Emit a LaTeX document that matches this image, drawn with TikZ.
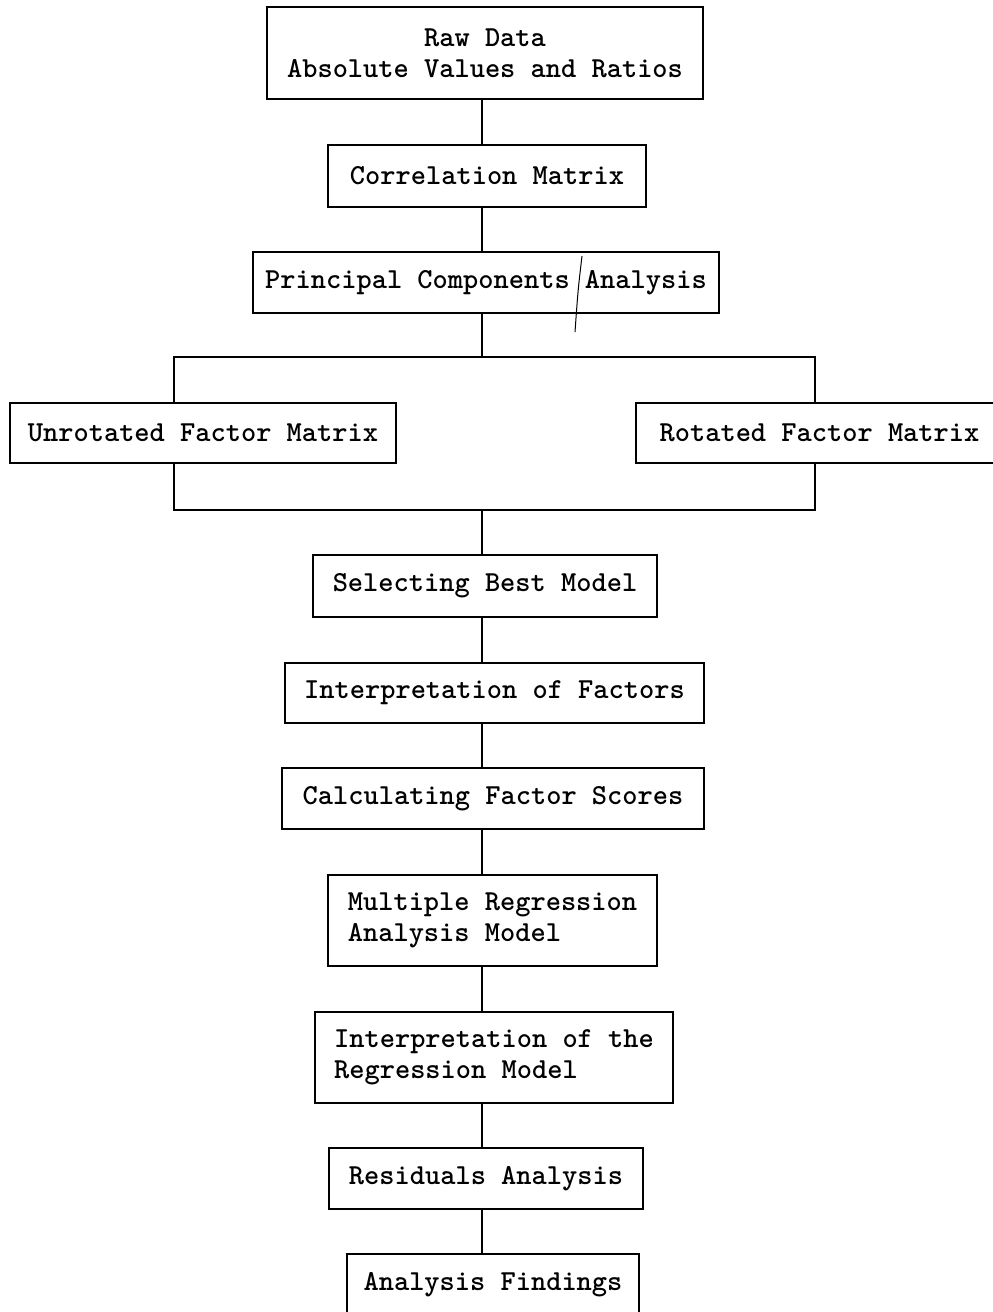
\documentclass[tikz,border=0pt]{standalone}
\usepackage{fontspec}
\begin{document}
\begin{tikzpicture}[x=1pt,y=-1pt,
  stepbox/.style={draw, line width=1.8pt, inner sep=0pt, align=center,
    font=\ttfamily\bfseries\fontsize{29}{31}\selectfont},
  flowline/.style={line width=1.6pt}]
\useasboundingbox (0,0) rectangle (993,1312);
\clip (0,0) rectangle (993,1312);
\fill[white] (0,0) rectangle (993,1312);

\node[stepbox, minimum width=436pt, minimum height=92pt] (raw) at (485,53) {Raw Data\\Absolute Values and Ratios};
\node[stepbox, minimum width=318pt, minimum height=62pt] (corr) at (487,176) {Correlation Matrix};
\node[stepbox, minimum width=466pt, minimum height=61pt] (pca) at (486,282.5) {Principal Components Analysis};
\node[stepbox, minimum width=386pt, minimum height=60pt] (unrot) at (203,433) {Unrotated Factor Matrix};
\node[stepbox, minimum width=367pt, minimum height=60pt] (rot) at (819.5,433) {Rotated Factor Matrix};
\node[stepbox, minimum width=344pt, minimum height=62pt] (sel) at (485,586) {Selecting Best Model};
\node[stepbox, minimum width=419pt, minimum height=60pt] (intf) at (494.5,693) {Interpretation of Factors};
\node[stepbox, minimum width=422pt, minimum height=61pt] (calc) at (493,798.5) {Calculating Factor Scores};
\node[stepbox, align=left, minimum width=329pt, minimum height=91pt] (mult) at (492.5,920.5) {Multiple Regression\\Analysis Model};
\node[stepbox, align=left, minimum width=358pt, minimum height=91pt] (intr) at (494,1057.5) {Interpretation of the\\Regression Model};
\node[stepbox, minimum width=314pt, minimum height=61pt] (resid) at (486,1178.5) {Residuals Analysis};
\node[stepbox, minimum width=292pt, minimum height=62pt] (find) at (493,1285) {Analysis Findings};

\coordinate (spine) at (482,0);
\coordinate (splitT) at (482,357);
\coordinate (splitB) at (482,510);
\coordinate (leftx) at (174,0);
\coordinate (rightx) at (815,0);

\draw[flowline] (raw.south -| spine) -- (corr.north -| spine);
\draw[flowline] (corr.south -| spine) -- (pca.north -| spine);
\draw[flowline] (pca.south -| spine) -- (splitT);
\draw[flowline] (unrot.north -| leftx) -- (splitT -| leftx) -- (splitT -| rightx) -- (rot.north -| rightx);
\draw[flowline] (unrot.south -| leftx) -- (splitB -| leftx) -- (splitB -| rightx) -- (rot.south -| rightx);
\draw[flowline] (splitB) -- (sel.north -| spine);
\draw[flowline] (sel.south -| spine) -- (intf.north -| spine);
\draw[flowline] (intf.south -| spine) -- (calc.north -| spine);
\draw[flowline] (calc.south -| spine) -- (mult.north -| spine);
\draw[flowline] (mult.south -| spine) -- (intr.north -| spine);
\draw[flowline] (intr.south -| spine) -- (resid.north -| spine);
\draw[flowline] (resid.south -| spine) -- (find.north -| spine);

% pen stroke across the PCA box
\draw[line width=1pt] (582,256) .. controls (578,290) .. (575,332);
\end{tikzpicture}
\end{document}
